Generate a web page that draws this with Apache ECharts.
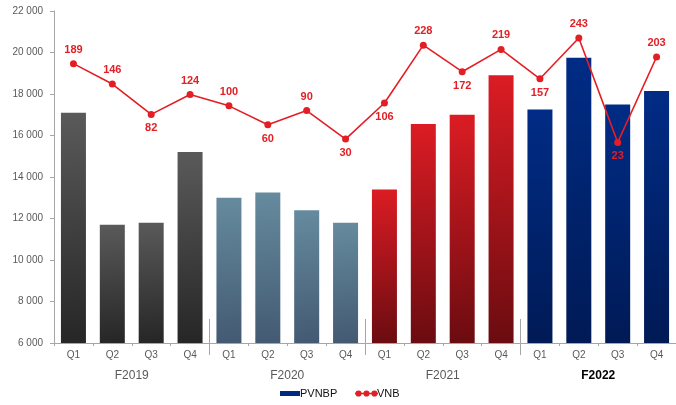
<!DOCTYPE html>
<html>
<head>
<meta charset="utf-8">
<script src="https://cdn.jsdelivr.net/npm/echarts@6/dist/echarts.min.js"></script>
<style>
html,body{margin:0;padding:0;background:#fff;}
#chart{width:676px;height:405px;}
</style>
</head>
<body>
<div id="chart"></div>
<script>
// ---- data ----
var quarters = ['Q1','Q2','Q3','Q4','Q1','Q2','Q3','Q4','Q1','Q2','Q3','Q4','Q1','Q2','Q3','Q4'];
var years = ['F2019','F2020','F2021','F2022'];
var yearOfQuarter = [0,0,0,0,1,1,1,1,2,2,2,2,3,3,3,3];
var pvnbp = [17100,11700,11800,15200, 13000,13250,12400,11800, 13400,16550,17000,18900, 17250,19750,17500,18150];
var vnb = [189,146,82,124, 100,60,90,30, 106,228,172,219, 157,243,23,203];
var yTicks = {min:6000, max:22000, interval:2000};

// ---- styles ----
var labelPlace = ['top','top','bottom','top','top','bottom','top','bottom','bottom','top','bottom','top','bottom','top','bottom','top'];
var yearGradients = [
  ['#5a5a5a','#262626'],
  ['#668b9e','#435a72'],
  ['#dc1c24','#6a0c10'],
  ['#002c86','#001a55']
];
function grad(c){
  return new echarts.graphic.LinearGradient(0,0,0.35,1,[{offset:0,color:c[0]},{offset:1,color:c[1]}]);
}
var RED = '#e31e24';
var GRAY = '#595959';

var barData = pvnbp.map(function(v,i){
  return {value:v, itemStyle:{color:grad(yearGradients[yearOfQuarter[i]])}};
});
var lineData = vnb.map(function(v,i){
  return {value:v, label:{position:labelPlace[i]}};
});

function fmtThousands(v){
  var s = String(Math.round(v));
  if (s.length > 3) return s.slice(0,s.length-3)+' '+s.slice(s.length-3);
  return s;
}

var vnbIcon = 'path://M0,3.2H26V4.8H0Z M0.5,4a3.5,3.5 0 1,1 7,0a3.5,3.5 0 1,1 -7,0Z M9.5,4a3.5,3.5 0 1,1 7,0a3.5,3.5 0 1,1 -7,0Z M18.5,4a3.5,3.5 0 1,1 7,0a3.5,3.5 0 1,1 -7,0Z';

var chart = echarts.init(document.getElementById('chart'), null, {renderer:'canvas'});
chart.setOption({
  animation:false,
  textStyle:{fontFamily:'Liberation Sans, Arial, sans-serif'},
  grid:{left:54, right:-8, top:11, bottom:62, containLabel:false},
  legend:[
    {data:[{name:'PVNBP', icon:'rect'}], left:280, top:388, padding:0, itemWidth:20, itemHeight:5, itemGap:0,
     textStyle:{fontSize:11, color:'#111', padding:[0,0,0,-5]}, selectedMode:false},
    {data:[{name:'VNB', icon:vnbIcon, itemStyle:{color:RED}}], left:355, top:388, padding:0, itemWidth:23, itemHeight:7, itemGap:0,
     textStyle:{fontSize:11, color:'#111', padding:[0,0,0,-6]}, selectedMode:false}
  ],
  xAxis:[
    {type:'category', data:quarters, boundaryGap:true,
     axisLine:{show:true, onZero:false, lineStyle:{color:'#a6a6a6', width:1}},
     axisTick:{show:true, length:3, lineStyle:{color:'#a6a6a6'}},
     axisLabel:{fontSize:10, color:GRAY, margin:7, interval:0}},
    {type:'value', min:0, max:years.length, position:'bottom', offset:12,
     axisLine:{show:false, onZero:false}, splitLine:{show:false},
     axisTick:{show:true, inside:true, length:36, customValues:[1,2,3], lineStyle:{color:'#a6a6a6', width:1}},
     axisLabel:{customValues:[0.5,1.5,2.5,3.5], margin:15, fontSize:12, color:GRAY,
       formatter:function(v){var i=Math.floor(v); return i===years.length-1 ? '{b|'+years[i]+'}' : years[i];},
       rich:{b:{fontWeight:'bold', color:'#000', fontSize:12}}}}
  ],
  yAxis:[
    {type:'value', min:yTicks.min, max:yTicks.max, interval:yTicks.interval,
     axisLine:{show:true, onZero:false, lineStyle:{color:'#a6a6a6'}},
     axisTick:{show:true, length:4, lineStyle:{color:'#a6a6a6'}},
     splitLine:{show:false},
     axisLabel:{fontSize:10, color:GRAY, margin:11, formatter:fmtThousands}},
    {type:'value', min:-400, max:300, show:false, splitLine:{show:false}}
  ],
  series:[
    {name:'PVNBP', type:'bar', data:barData, barWidth:25, xAxisIndex:0, yAxisIndex:0,
     itemStyle:{color:'#002a80'}},
    {name:'VNB', type:'line', data:lineData, xAxisIndex:0, yAxisIndex:1,
     symbol:'circle', symbolSize:7,
     lineStyle:{color:RED, width:1.6}, itemStyle:{color:RED},
     label:{show:true, fontSize:11, fontWeight:'bold', color:RED, distance:5}}
  ]
});
</script>
</body>
</html>
